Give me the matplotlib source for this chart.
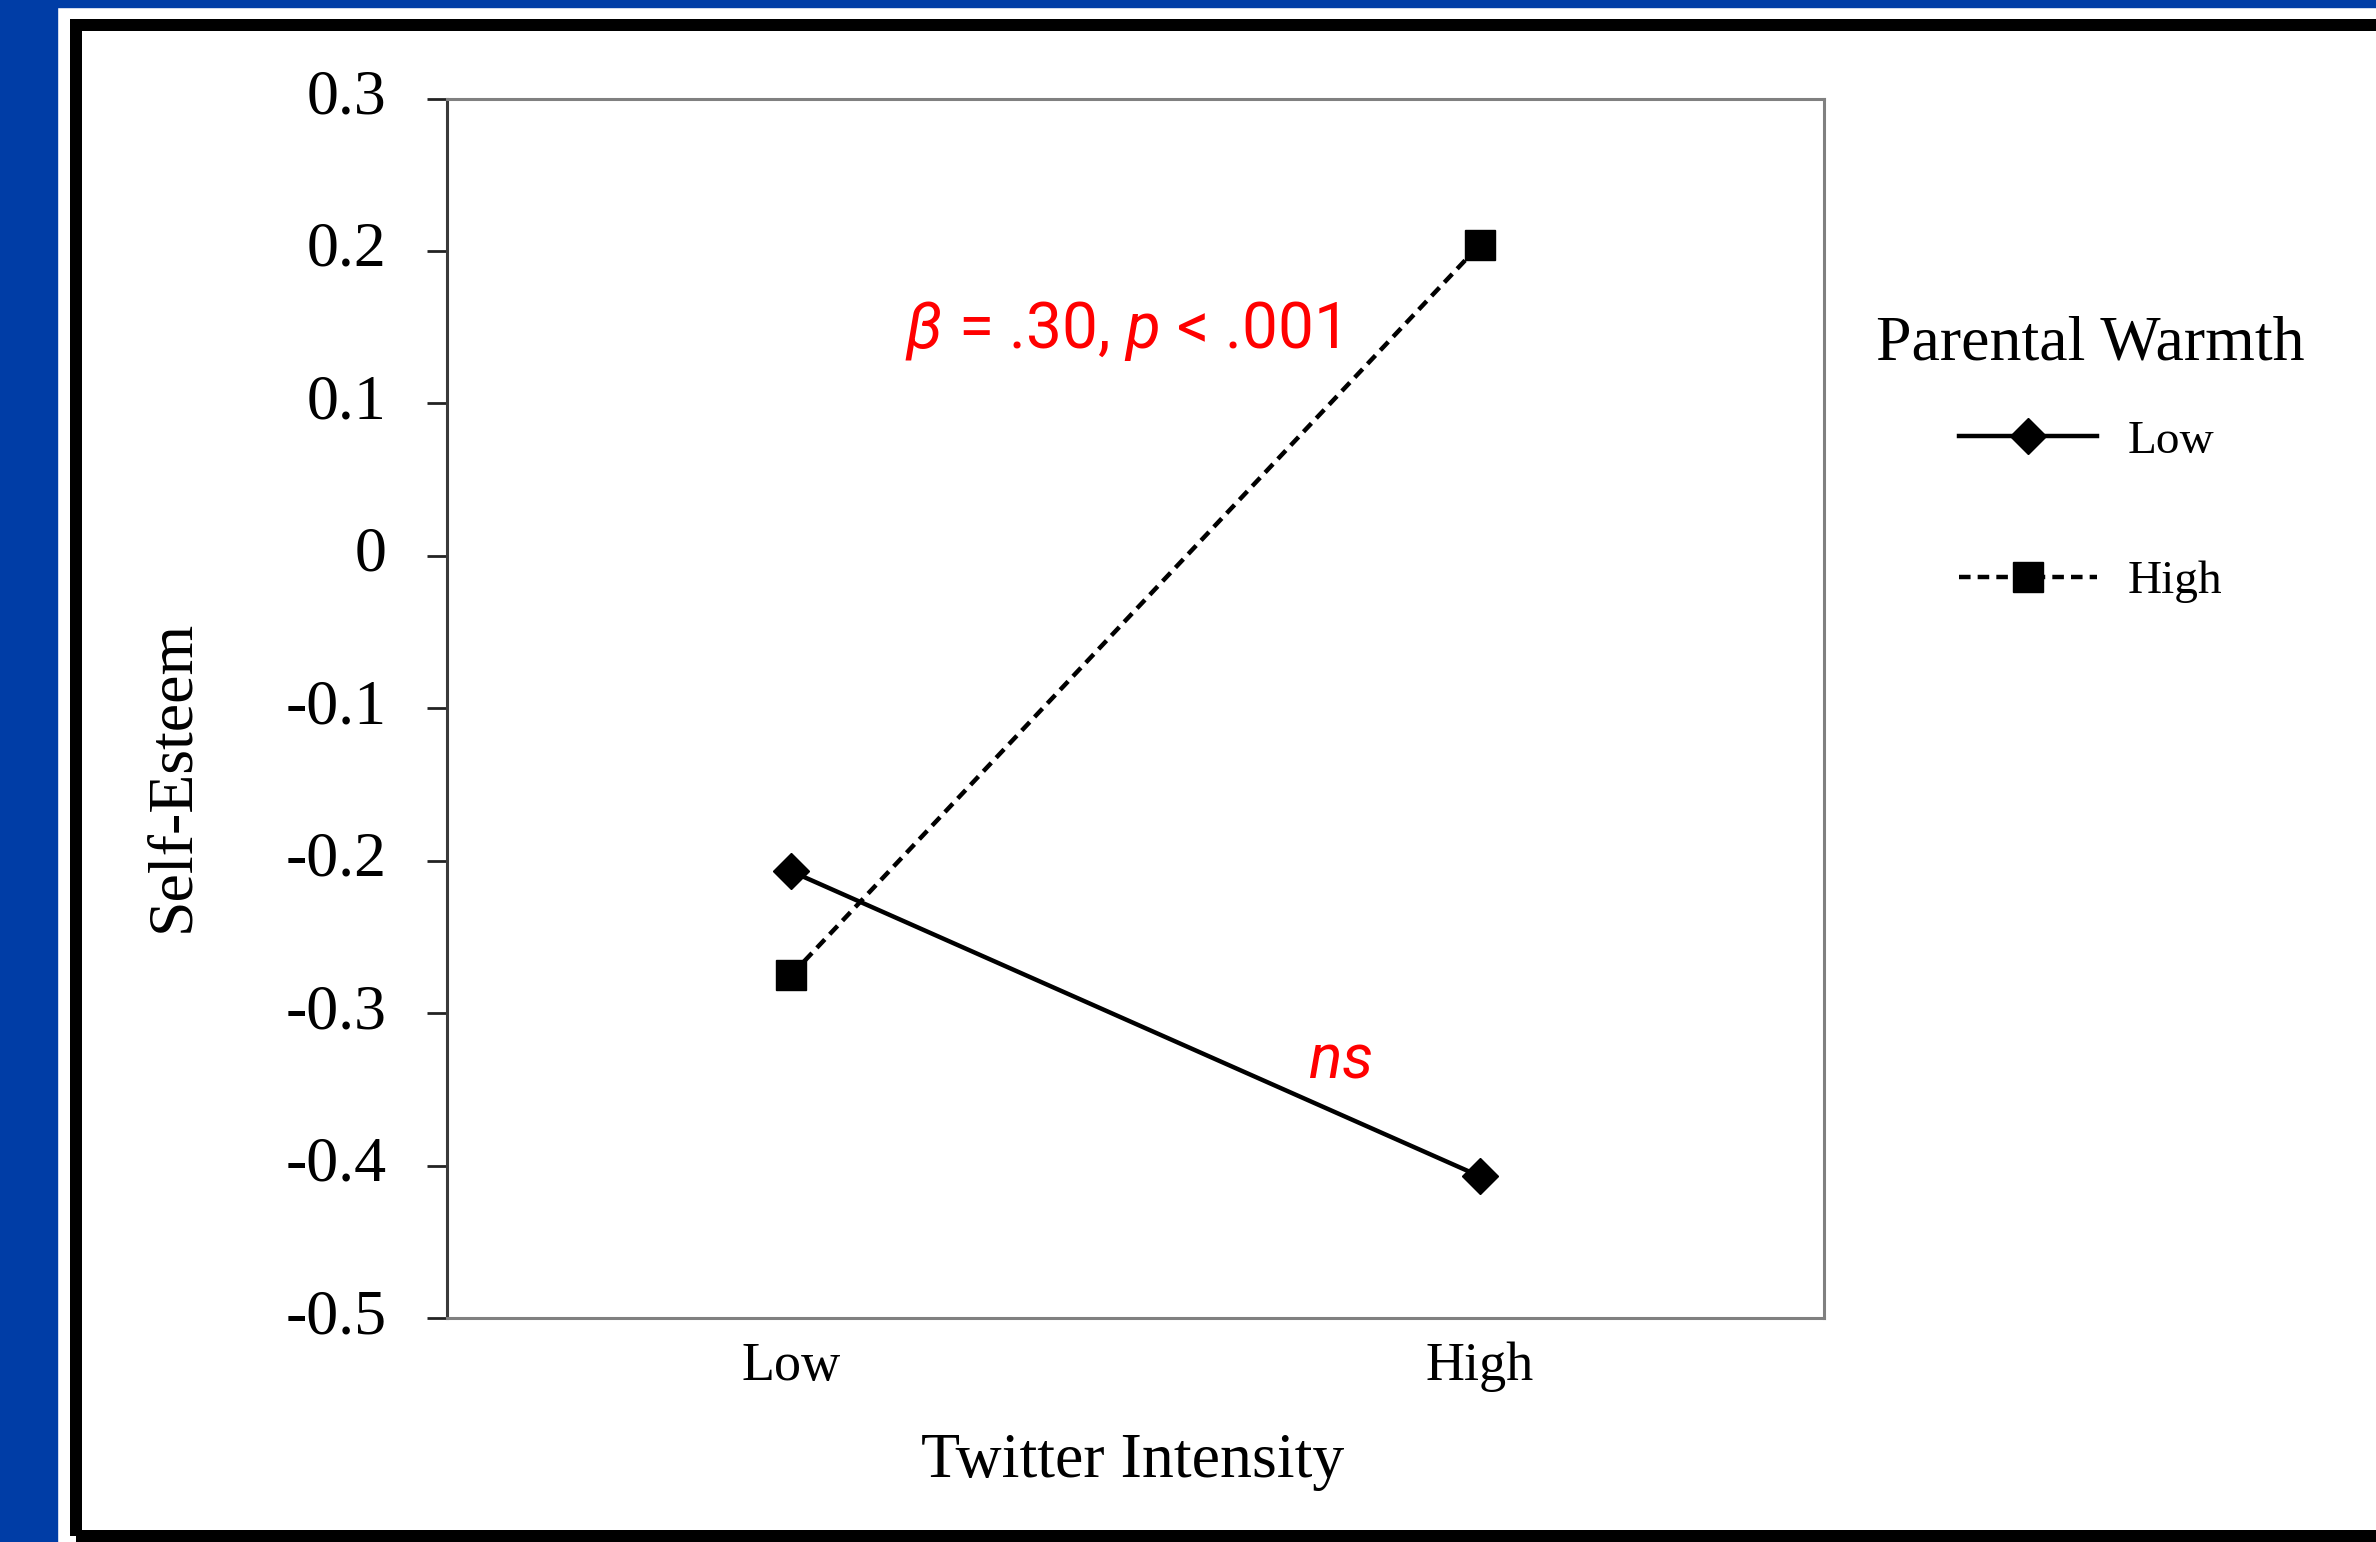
import numpy as np
import matplotlib
matplotlib.use('Agg')
import matplotlib.pyplot as plt
from matplotlib.patches import Rectangle

# ---- data ----
categories = ['Low', 'High']              # Twitter Intensity
series_names = ['Low', 'High']            # Parental Warmth
low_warmth = [-0.207, -0.407]
high_warmth = [-0.275, 0.204]
yticks = [0.3, 0.2, 0.1, 0.0, -0.1, -0.2, -0.3, -0.4, -0.5]
ytick_labels = ['0.3', '0.2', '0.1', '0', '-0.1', '-0.2', '-0.3', '-0.4', '-0.5']

plt.rcParams['font.family'] = ['Liberation Serif', 'DejaVu Serif']
plt.rcParams['mathtext.fontset'] = 'custom'
plt.rcParams['mathtext.rm'] = 'Roboto'
plt.rcParams['mathtext.it'] = 'Roboto:italic'

W, H = 2376, 1542
fig = plt.figure(figsize=(W / 100, H / 100), dpi=100)
fig.patch.set_facecolor('white')


def fx(px):
    return px / W


def fy(py):
    return 1 - py / H


BLUE = '#003DA6'
# blue page background strips
fig.add_artist(Rectangle((0, 0), fx(57), 1, transform=fig.transFigure,
                         color=BLUE, zorder=0))
fig.add_artist(Rectangle((0, fy(7)), 1, 7 / H, transform=fig.transFigure,
                         color=BLUE, zorder=0))
# black frame
fig.add_artist(Rectangle((fx(76), fy(1536)), fx(2600 - 76), (1536 - 25) / H,
                         transform=fig.transFigure, fill=False, ec='black',
                         lw=12 * 0.72, zorder=1))

ax = fig.add_axes([fx(447), fy(1318), (1824 - 447) / W, (1318 - 98.5) / H])
ax.set_facecolor('none')

x = np.arange(len(categories))
ax.plot(x, low_warmth, color='black', lw=3.2, marker='D', ms=18,
        label=series_names[0], zorder=3)
ax.plot(x, high_warmth, color='black', lw=3.2, ls=(0, (2.6, 1.6)),
        marker='s', ms=22, label=series_names[1], zorder=3)

ax.set_xlim(-0.5, 1.5)
ax.set_ylim(-0.5, 0.3)
ax.set_xticks(x, categories, fontsize=39)
ax.set_yticks(yticks, ytick_labels, fontsize=46)
for lbl in ax.get_yticklabels():
    lbl.set_verticalalignment('center')
ax.tick_params(axis='x', length=0, pad=17)
ax.tick_params(axis='y', length=14.5, width=2.0, color='#222222', pad=29)

for side in ['top', 'right', 'bottom']:
    ax.spines[side].set_color('#808080')
    ax.spines[side].set_linewidth(2.2)
ax.spines['left'].set_color('#3a3a3a')
ax.spines['left'].set_linewidth(2.2)

ax.set_xlabel('Twitter Intensity', fontsize=46, va='baseline')
ax.xaxis.set_label_coords((1133 - 447) / 1377, (1318 - 1477) / 1219.5)
ax.set_ylabel('Self-Esteem', fontsize=46, va='center')
ax.yaxis.set_label_coords((173 - 447) / 1377, (1318 - 776) / 1219.5)

# annotations
ax.text(0.165, 0.136, r'$\beta$ = .30, $p$ < .001', color='#ff0000',
        fontsize=46, family='Roboto', ha='left', va='baseline')
ax.text(0.7505, -0.342, r'$ns$', color='#ff0000', fontsize=45,
        family='Roboto', ha='left', va='baseline')

leg = ax.legend(title='Parental Warmth', title_fontsize=46, fontsize=34,
                loc='upper left', bbox_to_anchor=(fx(1876), fy(315)),
                bbox_transform=fig.transFigure, frameon=False,
                borderpad=0, borderaxespad=0, handlelength=2.92,
                handletextpad=0.65, labelspacing=2.06)
leg._legend_box.sep = 33.6

fig.savefig('out.png', dpi=100, facecolor='white')
